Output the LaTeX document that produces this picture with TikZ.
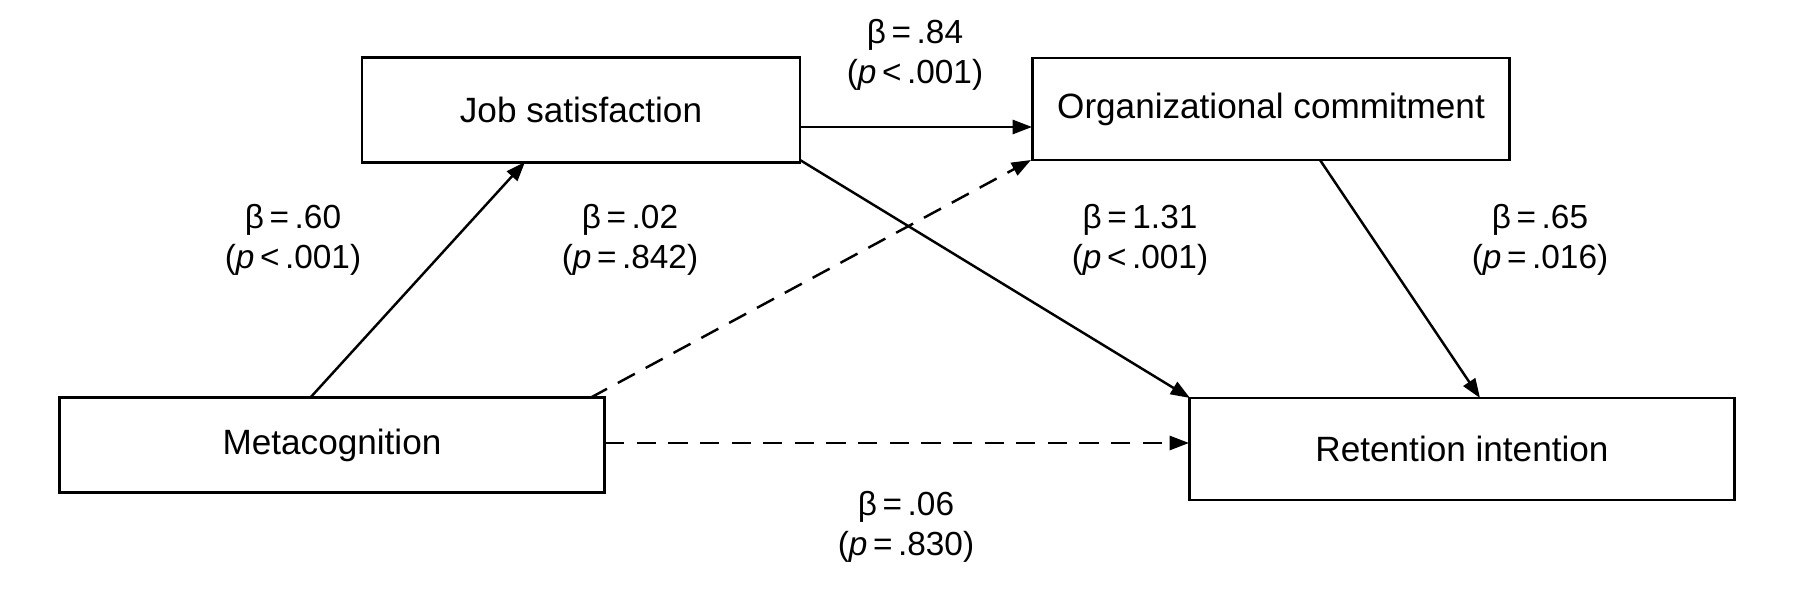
\documentclass[tikz,border=0pt]{standalone}
\usepackage{fontspec}
\setmainfont{Liberation Sans}
\usetikzlibrary{arrows.meta}
\begin{document}
\begin{tikzpicture}[x=0.02cm,y=-0.02cm,
  box/.style={draw,line width=1.4pt,inner sep=0pt},
  lbl/.style={font=\fontsize{19}{23}\selectfont,align=center},
  arr/.style={line width=1.4pt,-{Triangle[length=11pt,width=8pt]}},
  dsh/.style={arr,dash pattern=on 11pt off 7pt}]
\useasboundingbox (0,0) rectangle (1793,597);
\tikzset{every node/.style={font=\fontsize{20}{24}\selectfont}}
\node[box,minimum width=438*0.02cm,minimum height=105*0.02cm] (job) at (581,110) {Job satisfaction};
\node[box,minimum width=477*0.02cm,minimum height=102*0.02cm] (org) at (1271,109) {Organizational commitment};
\node[box,minimum width=545*0.02cm,minimum height=95*0.02cm] (meta) at (332,445) {Metacognition};
\node[box,minimum width=545*0.02cm,minimum height=102*0.02cm] (ret) at (1462,449) {Retention intention};
\coordinate (m1) at (310,398); \coordinate (j1) at (525,162);
\coordinate (m2) at (590,398); \coordinate (o1) at (1031,160);
\coordinate (j2) at (800,127); \coordinate (o2) at (1032,127);
\coordinate (j3) at (800,160); \coordinate (r1) at (1190,398);
\coordinate (o3) at (1320,160); \coordinate (r2) at (1480,398);
\coordinate (m3) at (605,443); \coordinate (r3) at (1189,443);
\draw[arr] (m1) -- (j1);
\draw[dsh] (m2) -- (o1);
\draw[arr] (j2) -- (o2);
\draw[arr] (j3) -- (r1);
\draw[arr] (o3) -- (r2);
\draw[dsh] (m3) -- (r3);
\node[lbl] (l1) at (915,55) {β\,=\,.84\\(\textit{p}\,<\,.001)};
\node[lbl] (l2) at (293,240) {β\,=\,.60\\(\textit{p}\,<\,.001)};
\node[lbl] (l3) at (630,240) {β\,=\,.02\\(\textit{p}\,=\,.842)};
\node[lbl] (l4) at (1140,240) {β\,=\,1.31\\(\textit{p}\,<\,.001)};
\node[lbl] (l5) at (1540,240) {β\,=\,.65\\(\textit{p}\,=\,.016)};
\node[lbl] (l6) at (906,527) {β\,=\,.06\\(\textit{p}\,=\,.830)};
\end{tikzpicture}
\end{document}
